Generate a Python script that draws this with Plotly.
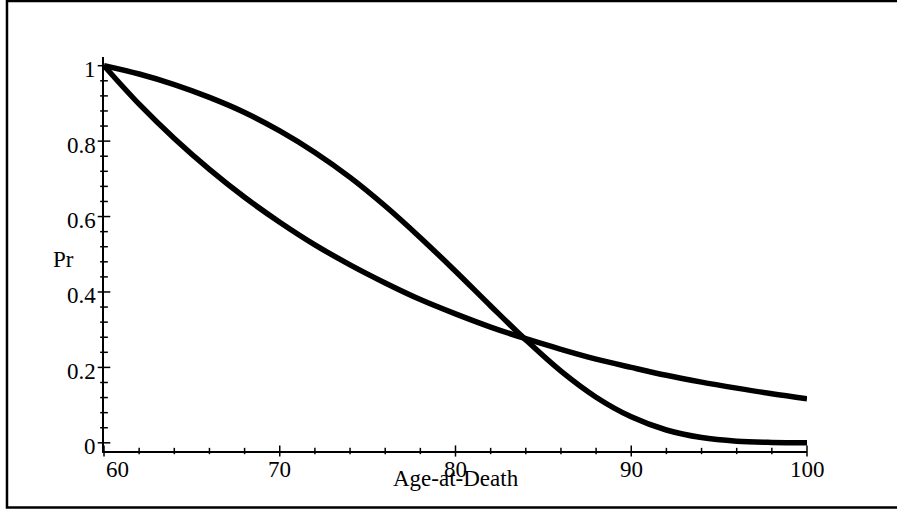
import plotly.graph_objects as go

# Data
ages = [60, 62, 64, 66, 68, 70, 72, 74, 76, 78, 80, 82, 84, 86, 88, 90, 92, 94, 96, 98, 100]
pr_upper = [1.000, 0.978, 0.950, 0.916, 0.876, 0.827, 0.770, 0.704, 0.628, 0.544, 0.455,
            0.363, 0.273, 0.190, 0.121, 0.069, 0.034, 0.014, 0.0044, 0.0011, 0.0002]
pr_lower = [1.000, 0.898, 0.807, 0.725, 0.651, 0.585, 0.525, 0.472, 0.424, 0.380, 0.342,
            0.307, 0.276, 0.248, 0.222, 0.200, 0.179, 0.161, 0.145, 0.130, 0.117]

x_major = [60, 70, 80, 90, 100]
x_major_labels = ["60", "70", "80", "90", "100"]
x_minor = [62, 64, 66, 68, 72, 74, 76, 78, 82, 84, 86, 88, 92, 94, 96, 98]
y_major = [0, 0.2, 0.4, 0.6, 0.8, 1.0]
y_major_labels = ["0", "0.2", "0.4", "0.6", "0.8", "1"]
y_minor = [0.04, 0.08, 0.12, 0.16, 0.24, 0.28, 0.32, 0.36, 0.44, 0.48, 0.52, 0.56,
           0.64, 0.68, 0.72, 0.76, 0.84, 0.88, 0.92, 0.96]

X_RANGE = [60, 100]
Y_RANGE = [-0.0217, 1.0231]
FONT = "Liberation Serif, Times New Roman, serif"
FS = 23

fig = go.Figure()
for ys in (pr_upper, pr_lower):
    fig.add_trace(go.Scatter(x=ages, y=ys, mode="lines",
                             line=dict(color="black", width=5.5, shape="spline", smoothing=1.0),
                             hoverinfo="skip", showlegend=False))

# crossing tick marks on the axes
def tick_trace(xs, ys, symbol, size):
    return go.Scatter(x=xs, y=ys, mode="markers", cliponaxis=False, showlegend=False,
                      hoverinfo="skip",
                      marker=dict(symbol=symbol, size=size, color="black",
                                  line=dict(width=1.5, color="black")))

fig.add_trace(tick_trace([X_RANGE[0]] * len(y_major), y_major, "line-ew", 9))
fig.add_trace(tick_trace([X_RANGE[0]] * len(y_minor), y_minor, "line-ew", 5.5))
fig.add_trace(tick_trace(x_major, [Y_RANGE[0]] * len(x_major), "line-ns", 8))
fig.add_trace(tick_trace(x_minor, [Y_RANGE[0]] * len(x_minor), "line-ns", 4.5))

annotations = []
for v, lab in zip(y_major, y_major_labels):
    annotations.append(dict(x=X_RANGE[0], y=v, xref="x", yref="y", text=lab, showarrow=False,
                            xanchor="right", yanchor="middle", xshift=-6, yshift=-4,
                            font=dict(family=FONT, size=FS, color="black")))
for v, lab in zip(x_major, x_major_labels):
    annotations.append(dict(x=v, y=0, xref="x", yref="paper", text=lab, showarrow=False,
                            xanchor="left" if v == X_RANGE[0] else "center",
                            yanchor="middle", yshift=-18.3,
                            font=dict(family=FONT, size=FS, color="black")))
annotations.append(dict(x=0.5, y=-0.069, xref="paper", yref="paper", text="Age-at-Death",
                        showarrow=False, xanchor="center", yanchor="middle",
                        font=dict(family=FONT, size=FS, color="black")))
annotations.append(dict(x=-0.0569, y=0.487, xref="paper", yref="paper", text="Pr",
                        showarrow=False, xanchor="center", yanchor="middle",
                        font=dict(family=FONT, size=FS, color="black")))

fig.update_layout(
    width=897, height=510,
    margin=dict(l=104, r=90, t=57, b=59, pad=0),
    paper_bgcolor="white", plot_bgcolor="white",
    xaxis=dict(range=X_RANGE, showgrid=False, zeroline=False, showticklabels=False,
               ticks="", showline=True, linecolor="black", linewidth=2, fixedrange=True),
    yaxis=dict(range=Y_RANGE, showgrid=False, zeroline=False, showticklabels=False,
               ticks="", showline=True, linecolor="black", linewidth=2, fixedrange=True),
    annotations=annotations,
    shapes=[dict(type="path", xref="paper", yref="paper",
                 path="M 1.14,1.142 L -0.138,1.142 L -0.138,-0.1434 L 1.14,-0.1434",
                 line=dict(color="black", width=2.5))],
    showlegend=False,
)

fig.write_html("out.html", config={"displayModeBar": False},
               post_script="document.body.style.margin='0';document.body.style.overflow='hidden';")
